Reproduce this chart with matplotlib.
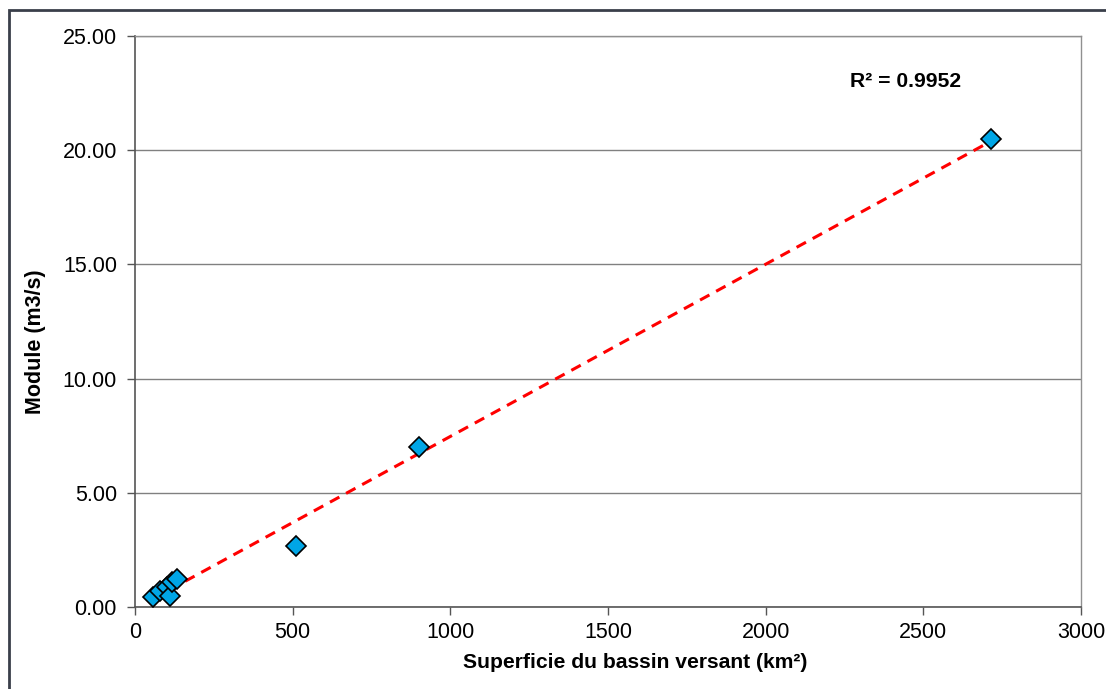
import numpy as np
import matplotlib
matplotlib.use("Agg")
import matplotlib.pyplot as plt
from matplotlib.patches import Rectangle

plt.rcParams['font.family'] = ['Liberation Sans', 'DejaVu Sans']

# Catchment area (km²) and mean annual flow (m3/s)
superficie = [57, 79, 101, 111, 117, 133, 510, 900, 2715]
module = [0.44, 0.70, 0.88, 0.46, 1.09, 1.23, 2.68, 7.00, 20.48]
r2_label = "R² = 0.9952"

x_ticks = [0, 500, 1000, 1500, 2000, 2500, 3000]
y_ticks = [0.0, 5.0, 10.0, 15.0, 20.0, 25.0]

fig = plt.figure(figsize=(11.06, 6.89), dpi=100)
ax = fig.add_axes([135 / 1106, 82 / 689, 946 / 1106, 571 / 689])

# outer chart border
fig.patches.append(Rectangle((9 / 1106, -0.05), 1.2, (689 - 10) / 689 + 0.05,
                             transform=fig.transFigure, fill=False,
                             edgecolor='#3a3f4a', linewidth=2.0, zorder=0))

# linear trend line
xs = np.array(superficie, dtype=float)
ys = np.array(module, dtype=float)
slope, intercept = np.polyfit(xs, ys, 1)
xl = np.array([xs.min(), xs.max()])
ax.plot(xl, slope * xl + intercept, linestyle=(0, (3.5, 2.5)), color='#ff0000',
        linewidth=2.2, zorder=3)

ax.plot(superficie, module, linestyle='none', marker='D', markersize=10,
        markerfacecolor='#00a6e6', markeredgecolor='black', markeredgewidth=1.2,
        zorder=4)

ax.set_xlim(0, 3000)
ax.set_ylim(0, 25)
ax.set_xticks(x_ticks)
ax.set_yticks(y_ticks)
ax.set_xticklabels([str(v) for v in x_ticks])
ax.set_yticklabels([f"{v:.2f}" for v in y_ticks])
ax.yaxis.grid(True, color='#808080', linewidth=1.0)
ax.set_axisbelow(True)

for side in ['top', 'right']:
    ax.spines[side].set_color('#909090')
    ax.spines[side].set_linewidth(1.0)
for side in ['left', 'bottom']:
    ax.spines[side].set_color('#555555')
    ax.spines[side].set_linewidth(1.2)

ax.tick_params(axis='both', direction='out', length=6, width=1.0,
               color='#555555', labelsize=15.5, labelcolor='black')
ax.tick_params(axis='x', pad=5)
ax.tick_params(axis='y', pad=7)

ax.set_xlabel("Superficie du bassin versant (km²)", fontsize=15.2,
              fontweight='bold', va='center')
ax.set_ylabel("Module (m3/s)", fontsize=15.5, fontweight='bold', va='center')
ax.xaxis.set_label_coords((635 - 135) / 946, (607 - 663) / 571)
ax.yaxis.set_label_coords((35 - 135) / 946, (607 - 342) / 571)

ax.text(2268, 23.0, r2_label, fontsize=15.2, fontweight='bold', ha='left',
        va='center')

fig.savefig("out.png", dpi=100)
